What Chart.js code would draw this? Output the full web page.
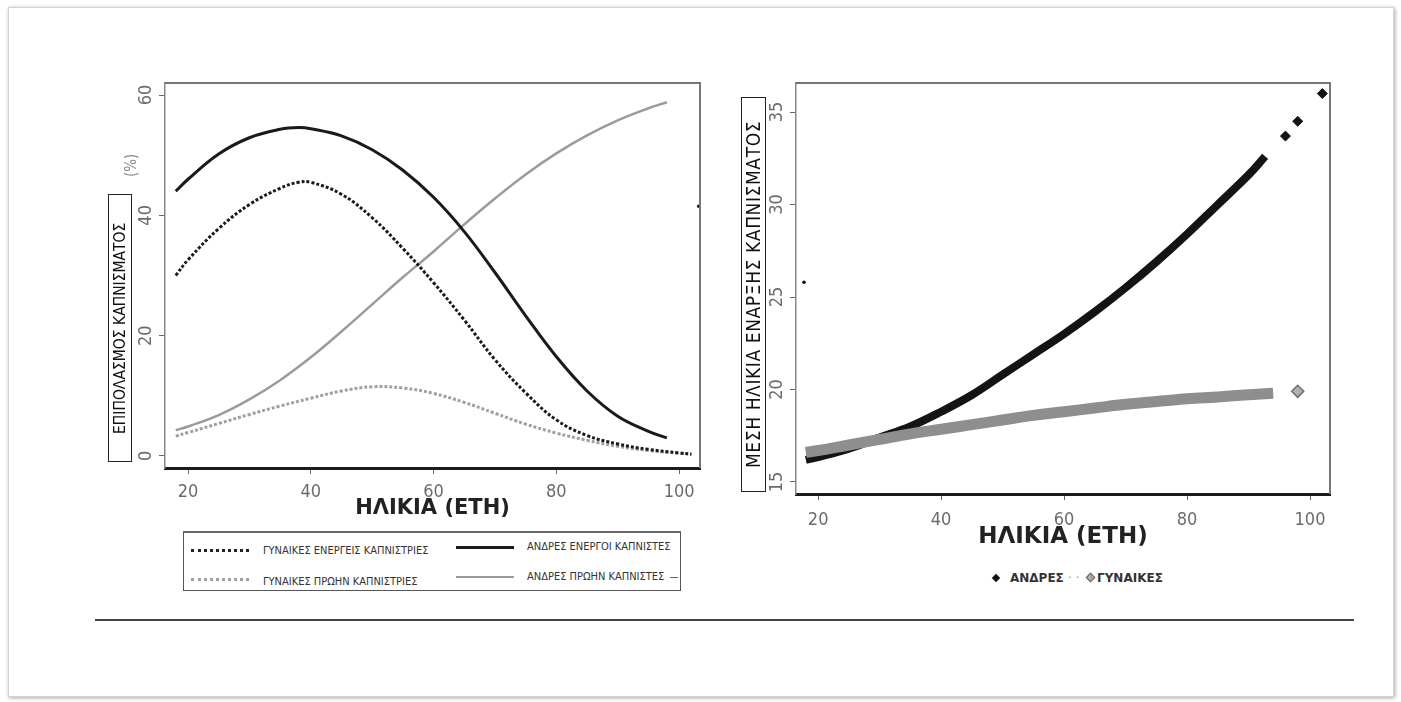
<!DOCTYPE html>
<html>
<head>
<meta charset="utf-8">
<script src="https://cdn.jsdelivr.net/npm/chart.js@4.4.1/dist/chart.umd.min.js"></script>
<style>
  body { margin:0; background:#fff; width:1401px; height:702px; position:relative; overflow:hidden; font-family:'DejaVu Sans', sans-serif; }
  #frame { position:absolute; left:8px; top:7px; width:1384px; height:688px; border:1px solid #d4d4d4; box-shadow:1px 1px 4px rgba(0,0,0,.35); background:#fff; }
  canvas { position:absolute; }
  .ytitle { position:absolute; box-sizing:border-box; border:1px solid #222; writing-mode:vertical-rl; transform:rotate(180deg);
            text-align:center; color:#111; font-family:'DejaVu Sans Condensed','DejaVu Sans',sans-serif; white-space:nowrap; }
  #rule { position:absolute; left:95px; top:619px; width:1259px; height:2px; background:#444; }
  #legL { position:absolute; left:183px; top:531px; width:498px; height:60px; box-sizing:border-box; border:1.5px solid #555; border-top:2px solid #666; }
  #legL div { position:absolute; }
  #legL .txt { font-family:'DejaVu Sans Condensed','DejaVu Sans',sans-serif; font-size:11px; color:#333; white-space:nowrap; line-height:12px; }
  #legR { position:absolute; left:990px; top:570px; height:16px; font-size:12px; font-weight:bold; color:#333; white-space:nowrap; }
  #legR span { position:absolute; top:0; line-height:16px; }
  .dia { position:absolute; width:6px; height:6px; transform:rotate(45deg); }
</style>
</head>
<body>
<div id="frame"></div>
<canvas id="left" width="620" height="470" style="left:100px;top:60px"></canvas>
<canvas id="right" width="640" height="500" style="left:720px;top:60px"></canvas>

<div class="ytitle" style="left:108px;top:194px;width:24px;height:268px;font-size:15.5px;line-height:22px;">ΕΠΙΠΟΛΑΣΜΟΣ ΚΑΠΝΙΣΜΑΤΟΣ</div>
<div class="ytitle" style="left:123px;top:147px;width:16px;height:36px;font-size:15px;line-height:16px;border:none;color:#888;">(%)</div>
<div class="ytitle" style="left:741px;top:97px;width:25px;height:395px;font-size:19px;line-height:23px;letter-spacing:0.6px;">ΜΕΣΗ ΗΛΙΚΙΑ ΕΝΑΡΞΗΣ ΚΑΠΝΙΣΜΑΤΟΣ</div>

<div id="legL">
  <div style="left:7px;top:16px;width:58px;border-top:3px dotted #222;"></div>
  <div class="txt" style="left:79px;top:12px;">ΓΥΝΑΙΚΕΣ ΕΝΕΡΓΕΙΣ ΚΑΠΝΙΣΤΡΙΕΣ</div>
  <div style="left:272px;top:13px;width:58px;height:3px;background:#1a1a1a;"></div>
  <div class="txt" style="left:343px;top:8px;">ΑΝΔΡΕΣ ΕΝΕΡΓΟΙ ΚΑΠΝΙΣΤΕΣ</div>
  <div style="left:7px;top:45px;width:58px;border-top:3px dotted #a0a0a0;"></div>
  <div class="txt" style="left:79px;top:43px;">ΓΥΝΑΙΚΕΣ ΠΡΩΗΝ ΚΑΠΝΙΣΤΡΙΕΣ</div>
  <div style="left:272px;top:43px;width:58px;height:2px;background:#9b9b9b;"></div>
  <div class="txt" style="left:343px;top:38px;">ΑΝΔΡΕΣ ΠΡΩΗΝ ΚΑΠΝΙΣΤΕΣ</div>
  <div style="left:486px;top:44px;width:8px;height:1px;background:#666;"></div>
</div>

<div id="legR">
  <div class="dia" style="left:3px;top:5px;background:#111;"></div>
  <span style="left:20px;">ΑΝΔΡΕΣ</span>
  <span style="left:78px;color:#999;font-weight:normal;">· ·</span>
  <div class="dia" style="left:97px;top:4px;width:7px;height:7px;background:#aaa;border:1px solid #666;box-sizing:border-box;"></div>
  <span style="left:107px;">ΓΥΝΑΙΚΕΣ</span>
</div>

<div id="rule"></div>

<script>
// left chart: prevalence (%) by age
const womenActiveAge = [18, 20, 25, 30, 35, 38, 40, 45, 50, 55, 60, 65, 70, 75, 80, 85, 90, 95, 100, 102]
const womenActive    = [30, 32.6, 37.8, 41.8, 44.5, 45.5, 45.5, 43.5, 39.6, 34.5, 28.8, 22.6, 16, 10.5, 6, 3.4, 2, 1.1, 0.5, 0.3]
const womenFormerAge = [18, 20, 25, 30, 35, 40, 45, 50, 55, 60, 65, 70, 75, 80, 85, 90, 95, 100, 102]
const womenFormer    = [3.3, 3.9, 5.4, 6.9, 8.3, 9.6, 10.8, 11.5, 11.3, 10.4, 8.9, 7.1, 5.3, 3.8, 2.6, 1.6, 0.9, 0.45, 0.3]
const menActiveAge   = [18, 20, 25, 30, 35, 38, 40, 45, 50, 55, 60, 65, 70, 75, 80, 85, 90, 95, 98]
const menActive      = [44, 46, 50.2, 52.9, 54.3, 54.6, 54.4, 53.2, 50.9, 47.5, 43, 37.3, 30.5, 23.3, 16.5, 10.8, 6.6, 4.1, 3]
const menFormerAge   = [18, 20, 25, 30, 35, 40, 45, 50, 55, 60, 65, 70, 75, 80, 85, 90, 95, 98]
const menFormer      = [4.3, 4.9, 6.8, 9.4, 12.6, 16.4, 20.7, 25.2, 29.7, 34, 38.5, 42.8, 46.8, 50.3, 53.3, 55.8, 57.8, 58.8]
const leftStrayAge = [103.2]
const leftStray    = [41.5]
const leftXTicks = [20, 40, 60, 80, 100]
const leftYTicks = [0, 20, 40, 60]

// right chart: mean age at smoking onset by age
const menAge     = [18, 20, 25, 30, 35, 40, 45, 50, 55, 60, 65, 70, 75, 80, 85, 90, 92.7]
const menOnset   = [16.2, 16.35, 16.8, 17.4, 18.0, 18.8, 19.7, 20.8, 21.9, 23.0, 24.2, 25.5, 26.9, 28.4, 30.0, 31.6, 32.6]
const menOutAge  = [96, 98, 102]
const menOut     = [33.7, 34.5, 36]
const womenAge   = [18, 20, 25, 30, 35, 40, 45, 50, 55, 60, 65, 70, 75, 80, 85, 90, 94]
const womenOnset = [16.6, 16.7, 17.0, 17.3, 17.6, 17.85, 18.1, 18.35, 18.6, 18.8, 19.0, 19.2, 19.35, 19.5, 19.6, 19.72, 19.8]
const womenOutAge = [98]
const womenOut    = [19.9]
const rightStrayAge = [17.7]
const rightStray    = [25.8]
const rightXTicks = [20, 40, 60, 80, 100]
const rightYTicks = [15, 20, 25, 30, 35]

const pts = (xs, ys) => xs.map((x, i) => ({x: x, y: ys[i]}))

const tickFamily = "'Liberation Sans Narrow', 'DejaVu Sans Condensed', sans-serif"
const tickFont = {family: tickFamily, size: 18}
const tickColor = '#6b6b6b'

const boxPlugin = {
    id: 'box',
    afterDraw(chart){
        const {ctx, chartArea: a} = chart
        ctx.save()
        ctx.strokeStyle = '#777'
        ctx.lineWidth = 2
        ctx.beginPath()
        ctx.moveTo(a.left, a.top)
        ctx.lineTo(a.right, a.top)
        ctx.lineTo(a.right, a.bottom)
        ctx.stroke()
        ctx.restore()
    }
}

// y tick labels turned 90deg (read bottom to top), as in the original R plot
const yLabelPlugin = {
    id: 'ylabels',
    afterDraw(chart){
        const s = chart.scales.y
        const ctx = chart.ctx
        ctx.save()
        ctx.font = '18px ' + tickFamily
        ctx.fillStyle = tickColor
        ctx.textAlign = 'center'
        ctx.textBaseline = 'middle'
        for(const t of s.ticks){
            ctx.save()
            ctx.translate(s.right - 19, s.getPixelForValue(t.value))
            ctx.rotate(-Math.PI / 2)
            ctx.fillText(String(t.value), 0, 0)
            ctx.restore()
        }
        ctx.restore()
    }
}

function xScale(min, max, ticks, height, pad, titleSize){
    return {
        type: 'linear', min: min, max: max,
        afterBuildTicks: s => { s.ticks = ticks.map(v => ({value: v})) },
        afterFit: s => { s.height = height },
        grid: {drawOnChartArea: false, drawTicks: true, tickLength: 6, color: '#666'},
        border: {display: true, color: '#1a1a1a', width: 3},
        ticks: {font: tickFont, color: tickColor, padding: pad, maxRotation: 0, minRotation: 0},
        title: {display: true, text: 'ΗΛΙΚΙΑ (ΕΤΗ)', color: '#222', padding: {top: 0, bottom: 3},
                font: {family: "'DejaVu Sans', sans-serif", size: titleSize, weight: 'bold'}}
    }
}

function yScale(min, max, ticks){
    return {
        type: 'linear', min: min, max: max,
        afterBuildTicks: s => { s.ticks = ticks.map(v => ({value: v})) },
        afterFit: s => { s.width = 30 },
        grid: {drawOnChartArea: false, drawTicks: true, tickLength: 6, color: '#666'},
        border: {display: true, color: '#888', width: 1.5},
        ticks: {display: false}
    }
}

new Chart(document.getElementById('left'), {
    type: 'line',
    data: {
        datasets: [
            {label: 'ΓΥΝΑΙΚΕΣ ΕΝΕΡΓΕΙΣ ΚΑΠΝΙΣΤΡΙΕΣ', data: pts(womenActiveAge, womenActive), borderColor: '#1a1a1a', borderWidth: 3, borderDash: [3, 2]},
            {label: 'ΑΝΔΡΕΣ ΕΝΕΡΓΟΙ ΚΑΠΝΙΣΤΕΣ', data: pts(menActiveAge, menActive), borderColor: '#1a1a1a', borderWidth: 3},
            {label: 'ΓΥΝΑΙΚΕΣ ΠΡΩΗΝ ΚΑΠΝΙΣΤΡΙΕΣ', data: pts(womenFormerAge, womenFormer), borderColor: '#a0a0a0', borderWidth: 3, borderDash: [3, 2]},
            {label: 'ΑΝΔΡΕΣ ΠΡΩΗΝ ΚΑΠΝΙΣΤΕΣ', data: pts(menFormerAge, menFormer), borderColor: '#9b9b9b', borderWidth: 2.5},
            {label: 'stray', data: pts(leftStrayAge, leftStray), showLine: false, pointRadius: 1.8, pointBackgroundColor: '#111', pointBorderWidth: 0}
        ]
    },
    options: {
        responsive: false, animation: false, devicePixelRatio: 1,
        layout: {padding: {left: 35, top: 23, right: 20, bottom: 6}},
        elements: {point: {radius: 0}, line: {tension: 0.4}},
        plugins: {legend: {display: false}, tooltip: {enabled: false}},
        scales: {
            x: xScale(16.25, 103.4, leftXTicks, 56, 8, 21),
            y: yScale(-2, 62, leftYTicks)
        }
    },
    plugins: [boxPlugin, yLabelPlugin]
})

new Chart(document.getElementById('right'), {
    type: 'line',
    data: {
        datasets: [
            {label: 'ΑΝΔΡΕΣ', order: 1, data: pts(menAge, menOnset), borderColor: '#141414', borderWidth: 8, pointRadius: 0},
            {label: 'ΓΥΝΑΙΚΕΣ', order: 0, data: pts(womenAge, womenOnset), borderColor: '#8e8e8e', borderWidth: 11, pointRadius: 0},
            {label: 'men out', order: 2, data: pts(menOutAge, menOut), showLine: false,
             pointStyle: 'rectRot', pointRadius: 5, pointBackgroundColor: '#141414', pointBorderColor: '#141414'},
            {label: 'women out', order: 2, data: pts(womenOutAge, womenOut), showLine: false,
             pointStyle: 'rectRot', pointRadius: 6, pointBackgroundColor: '#b0b0b0', pointBorderColor: '#6e6e6e', pointBorderWidth: 1.5},
            {label: 'stray', order: 2, data: pts(rightStrayAge, rightStray), showLine: false,
             pointRadius: 1.8, pointBackgroundColor: '#111', pointBorderWidth: 0}
        ]
    },
    options: {
        responsive: false, animation: false, devicePixelRatio: 1,
        layout: {padding: {left: 46, top: 23, right: 30, bottom: 6}},
        elements: {line: {tension: 0.4, capBezierPoints: true}},
        plugins: {legend: {display: false}, tooltip: {enabled: false}},
        scales: {
            x: xScale(16.4, 103.25, rightXTicks, 60, 10, 23),
            y: yScale(14.35, 36.57, rightYTicks)
        }
    },
    plugins: [boxPlugin, yLabelPlugin]
})
</script>
</body>
</html>
